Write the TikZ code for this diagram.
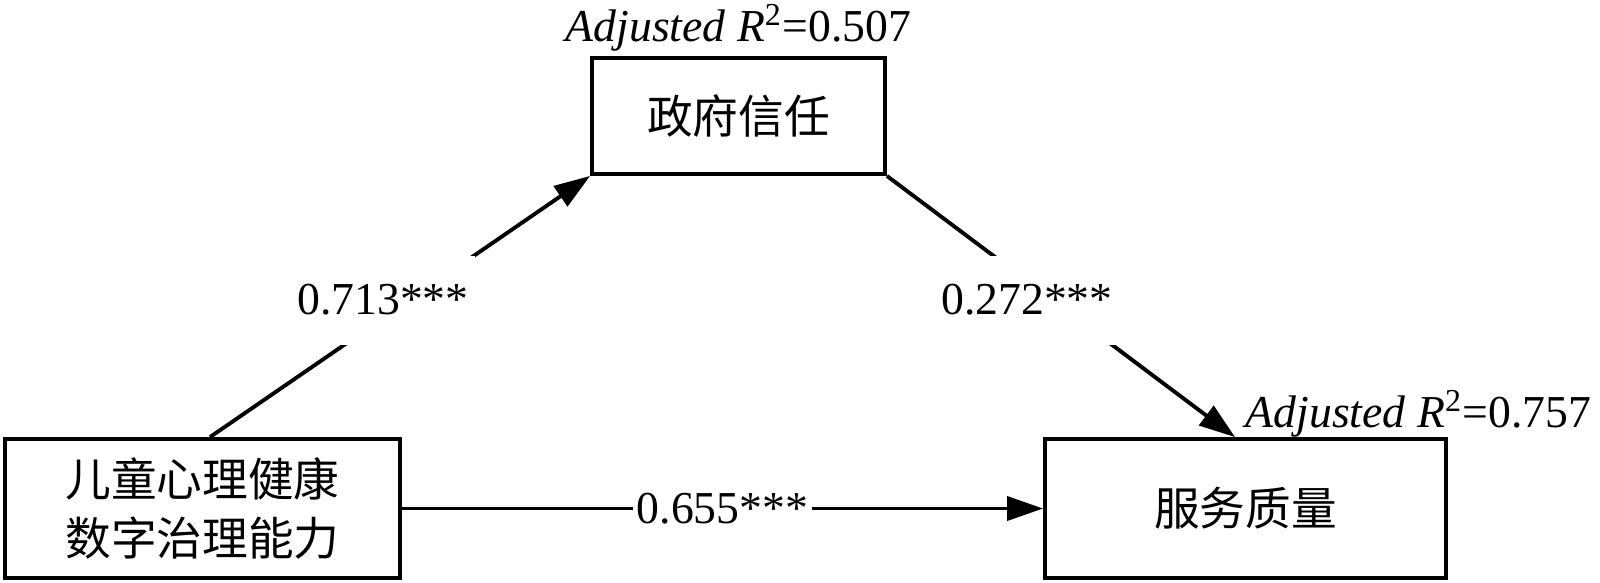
\documentclass[tikz,border=0pt]{standalone}
\usepackage{fontspec}
\setmainfont{Liberation Serif}
\newfontfamily\cjk{Noto Sans CJK SC}
\usetikzlibrary{arrows.meta,positioning}

\begin{document}
\begin{tikzpicture}[
		box/.style={draw, line width=1.1pt, inner sep=0pt, align=center,
			font=\cjk\fontsize{13}{17}\selectfont},
		conn/.style={line width=1.1pt, -{Triangle[length=3.6mm,width=2.4mm]}},
		coef/.style={font=\fontsize{13}{15}\selectfont, fill=white, inner sep=1pt},
		rsq/.style={font=\fontsize{13}{15}\selectfont, inner sep=0pt}]
		\useasboundingbox (0,0) rectangle (16,5.82);
		% boxes
		\node[box, minimum width=3.95cm, minimum height=1.39cm] (ability) at (2.025,0.735) {儿童心理健康\\数字治理能力};
		\node[box, minimum width=2.93cm, minimum height=1.16cm] (trust) at (7.385,4.66) {政府信任};
		\node[box, minimum width=4.01cm, minimum height=1.39cm] (quality) at (12.455,0.735) {服务质量};
		% R squared
		\node[rsq, anchor=base] (rtrust) at ([yshift=1.5mm]trust.north) {\textit{Adjusted R}\textsuperscript{2}=0.507};
		\node[rsq, anchor=base east] (rquality) at (15.92,1.55) {\textit{Adjusted R}\textsuperscript{2}=0.757};
		% paths
		\draw[conn] ([xshift=0.75mm]ability.north) -- (trust.south west);
		\draw[conn] (trust.south east) -- ([xshift=-1.05mm]quality.north);
		\draw[conn] (ability.east) -- (quality.west) node[coef, midway] (c) {0.655***};
		\node[coef, minimum height=0.89cm, inner xsep=0.6mm] (a) at (3.83,2.82) {0.713***};
		\node[coef, minimum height=0.89cm, inner xsep=0.6mm] (b) at (10.27,2.82) {0.272***};
\end{tikzpicture}
\end{document}
